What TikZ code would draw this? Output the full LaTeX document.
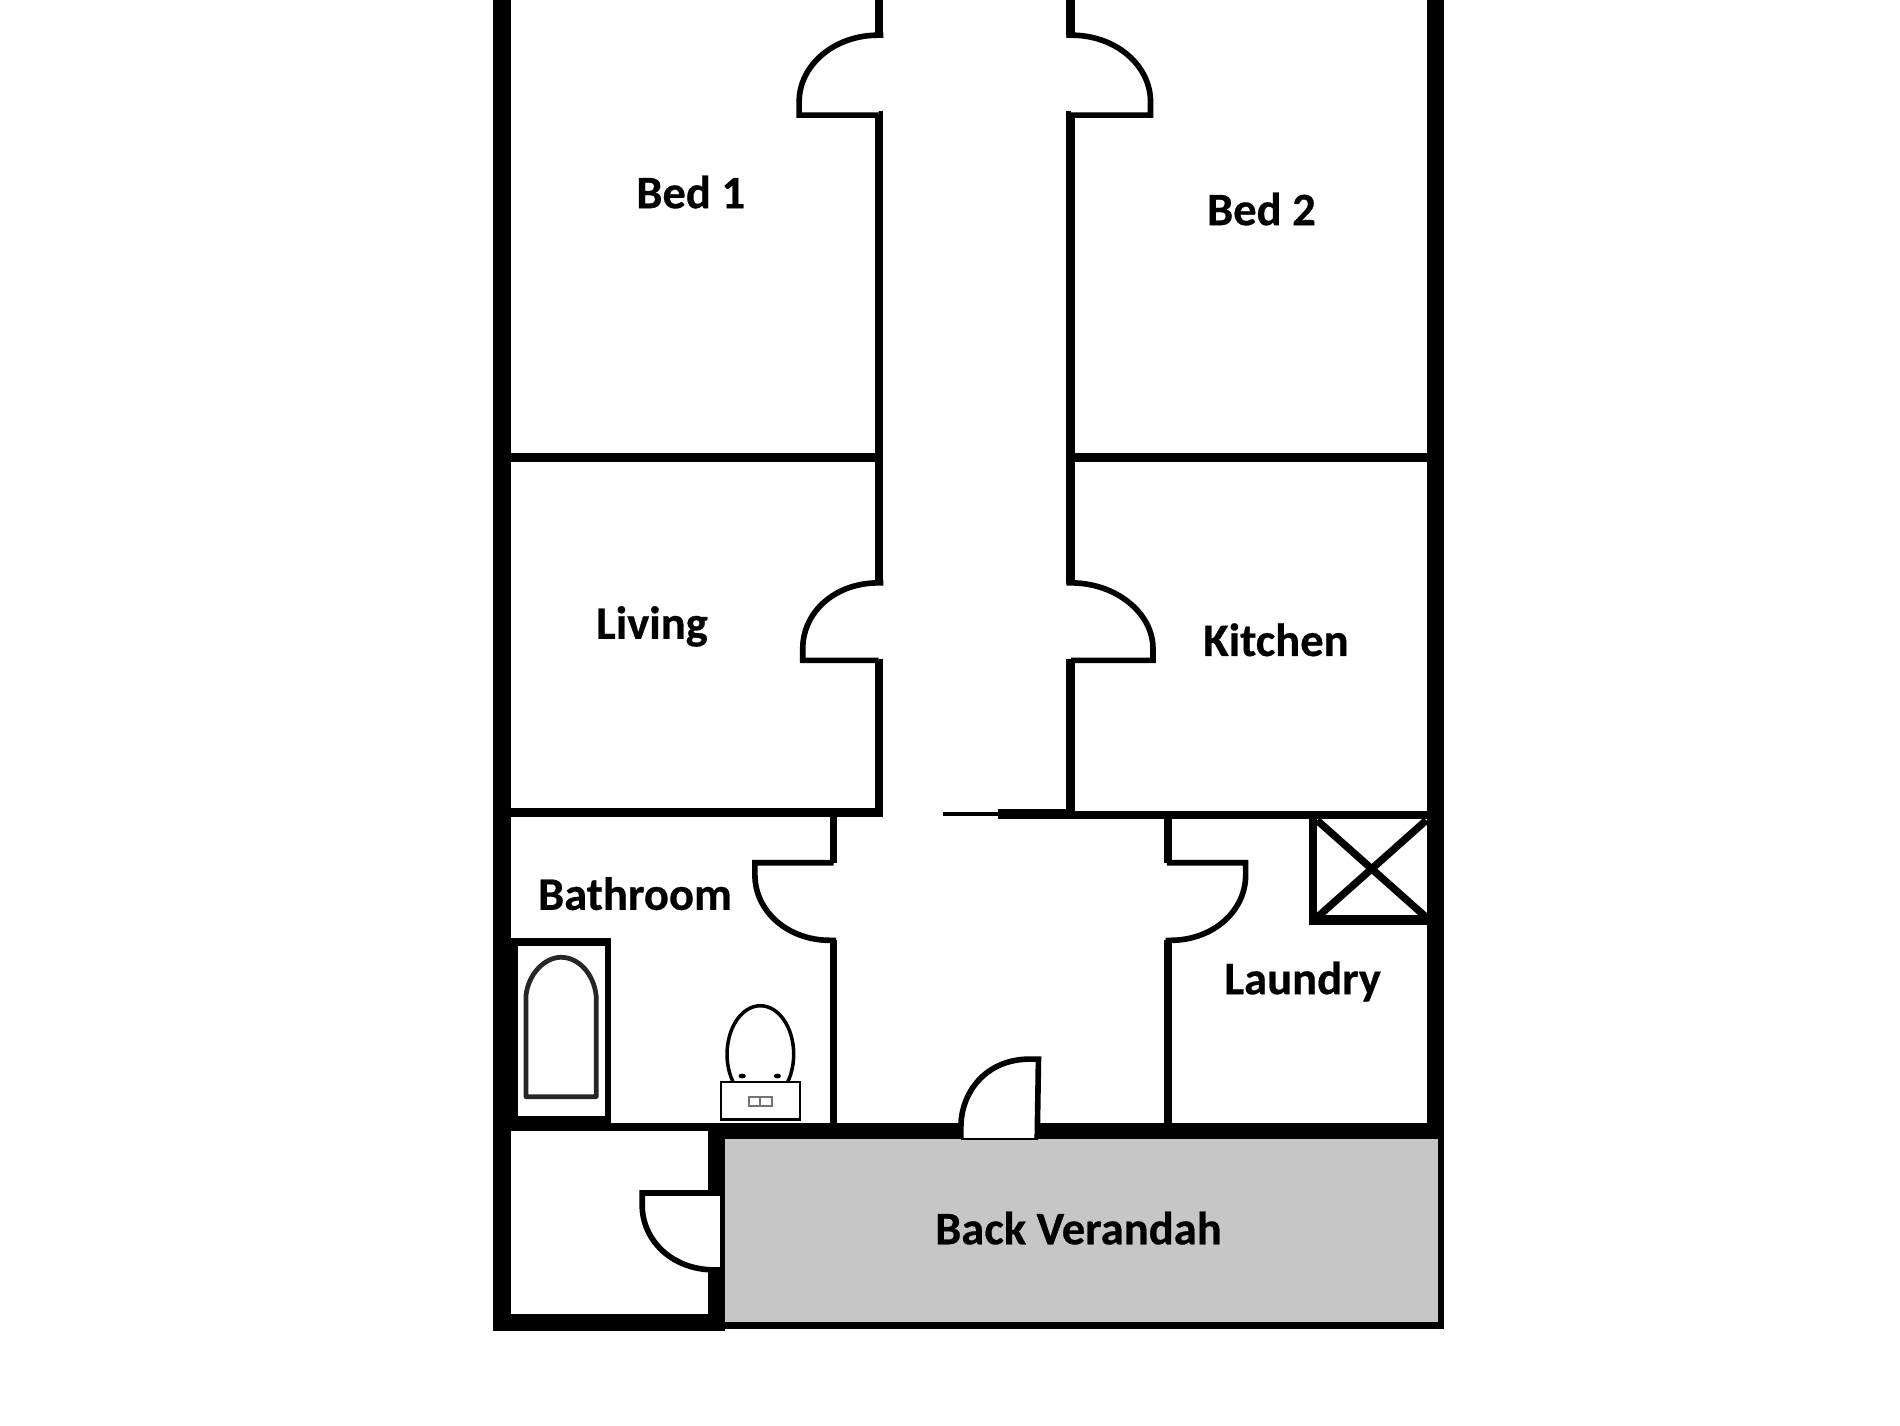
\documentclass[tikz,border=0pt]{standalone}
\usepackage{fontspec}
\setmainfont[BoldFeatures={FakeBold=0.5}]{Carlito}
\tikzset{
  x=0.012117cm,y=-0.012117cm,
  wall/.style={fill=black,draw=none},
  door/.style={draw=black,line width=1.6pt,fill=white,line join=miter},
  label/.style={font=\fontsize{13.25pt}{15pt}\selectfont\bfseries,text=black,inner sep=0pt,anchor=center},
  fixture/.style={draw=black,line width=0.7pt,fill=white},
  tubline/.style={draw=black!85,line width=1.35pt,line join=round},
  xline/.style={draw=black,line width=2.1pt}
}
\definecolor{verandah}{HTML}{C6C6C6}
\begin{document}
\begin{tikzpicture}
\useasboundingbox (0,0) rectangle (1568,1176);
\fill[white] (0,0) rectangle (1568,1176);
% verandah
\fill[verandah] (597,940) rectangle (1187,1091);
\fill[wall] (1187,927) rectangle (1192,1097);
\fill[wall] (597,1091) rectangle (1192,1097);
% outer walls
\fill[wall] (407,0) rectangle (422,1098);
\fill[wall] (1178,0) rectangle (1192,940);
\fill[wall] (407,1084.5) rectangle (597,1098);
% corridor walls left
\fill[wall] (722,0) rectangle (729,31);
\fill[wall] (722,92) rectangle (729,482);
\fill[wall] (722,544) rectangle (729,674);
% corridor walls right
\fill[wall] (880,0) rectangle (887,31);
\fill[wall] (880,92) rectangle (887,482);
\fill[wall] (880,544) rectangle (887,675);
% cross walls
\fill[wall] (421,374) rectangle (722,381);
\fill[wall] (887,374) rectangle (1178,381);
\fill[wall] (421,667) rectangle (729,674);
\fill[wall] (880,669) rectangle (1178,675.5);
\fill[wall] (824,667.5) rectangle (884,675.5);
\fill[wall] (778,670) rectangle (824,673);
% bath / laundry walls
\fill[wall] (685,674) rectangle (691,712);
\fill[wall] (685,776) rectangle (691,930);
\fill[wall] (961,675) rectangle (967,712);
\fill[wall] (961,776) rectangle (967,930);
% lower wall
\fill[wall] (421,927) rectangle (590,933);
\fill[wall] (584,927) rectangle (1192,940);
\fill[wall] (584,927) rectangle (598,1098);
% tub box
\fill[wall] (421,774) rectangle (504.5,930);
\fill[white] (427.5,781) rectangle (499,921);
% laundry square
\fill[wall] (1080,675) rectangle (1087,763);
\fill[wall] (1080,755) rectangle (1178,763);
\draw[xline] (1087,677) -- (1177,757);
\draw[xline] (1087,757) -- (1177,677);
% doors
\draw[door] (729,29) -- (725,29) .. controls (688,29) and (659.5,54) .. (659.5,84) -- (659.5,95) -- (725,95);
\draw[door] (880,29) -- (884,29) .. controls (921,29) and (949.5,54) .. (949.5,84) -- (949.5,95) -- (884,95);
\draw[door] (729,481) -- (725,481) .. controls (688,481) and (662.5,506) .. (662.5,535) -- (662.5,545) -- (725,545);
\draw[door] (880,481) -- (884,481) .. controls (921,481) and (951.5,506) .. (951.5,535) -- (951.5,545) -- (884,545);
\draw[door] (688,712) -- (623,712) -- (623,722) .. controls (623,752) and (650,776) .. (685,776) -- (690,776);
\draw[door] (963,712) -- (1028,712) -- (1028,722) .. controls (1028,752) and (1001,776) .. (966,776) -- (962,776);
\fill[white] (584.5,987) rectangle (594.5,1046);
\draw[door,fill=none] (596,984.5) -- (530,984.5) -- (530,995) .. controls (530,1022) and (553,1048) .. (590,1048) -- (596,1048);
\fill[white] (795,927) rectangle (853,938.5);
\draw[door,line width=1pt,fill=none] (793,939) -- (857,939);
\draw[door,fill=white] (793,939) -- (793,930) .. controls (793,902) and (813,874) .. (850,874) -- (857,874) -- (856,939);
% tub
\draw[tubline] (434,905) -- (434,822) .. controls (436,803) and (450,790) .. (463,790) .. controls (477,790) and (490,803) .. (492,822) -- (492,905) -- cycle;
% toilet
\draw[fixture,line width=1pt] (627.5,870) ellipse (27.5 and 40);
\fill[black] (612.5,888) ellipse (3 and 2);
\fill[black] (641.5,888) ellipse (3 and 2);
\draw[fixture] (595,893) rectangle (660,924);
\draw[draw=black!55,line width=0.5pt] (618,905) rectangle (637,913) (627.5,905) -- (627.5,913);
% labels
\node[label] (bedone) at (570,158.5) {Bed 1};
\node[label] (bedtwo) at (1041,172.5) {Bed 2};
\node[label] (living) at (538,517) {Living};
\node[label] (kitchen) at (1053,528) {Kitchen};
\node[label] (bathroom) at (524,737.5) {Bathroom};
\node[label] (laundry) at (1075,810) {Laundry};
\node[label] (verandahlabel) at (890,1013.5) {Back Verandah};
\end{tikzpicture}
\end{document}
